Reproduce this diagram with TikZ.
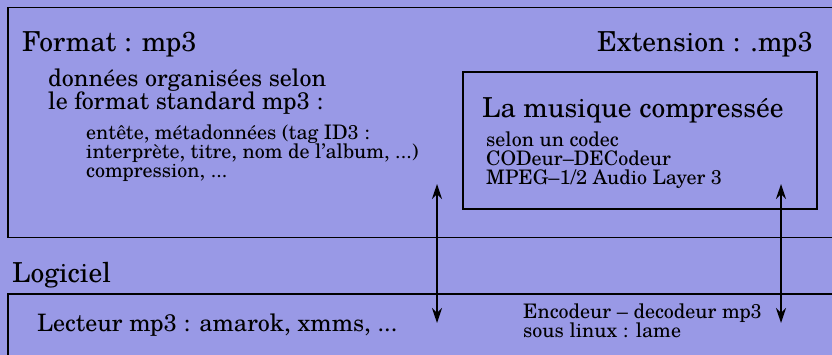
\documentclass[tikz,border=0pt]{standalone}
\usepackage{fontspec}
\setmainfont{TeX Gyre Schola}
\usetikzlibrary{arrows.meta}
\definecolor{bgblue}{RGB}{153,153,230}
\tikzset{
  big/.style={inner sep=0pt, font=\fontsize{27.5}{30}\selectfont},
  mid/.style={inner sep=0pt, font=\fontsize{24}{23}\selectfont},
  sml/.style={inner sep=0pt, font=\fontsize{20}{19}\selectfont},
  frame/.style={draw=black, line width=1.5pt, inner sep=0pt},
  innerframe/.style={draw=black, line width=2.2pt, inner sep=0pt},
  dbl/.style={line width=1.8pt, {Stealth[length=15pt,width=10pt,inset=5pt]}-{Stealth[length=15pt,width=10pt,inset=5pt]}}
}
\begin{document}
\begin{tikzpicture}[x=1pt,y=-1pt]
\useasboundingbox (0,0) rectangle (832,355);
\clip (0,0) rectangle (832,355);
\fill[bgblue] (-5,-5) rectangle (840,360);
% boxes
\node[frame, anchor=north west, minimum width=840pt, minimum height=230pt] (formatbox) at (7,7) {};
\node[innerframe, anchor=north west, minimum width=354pt, minimum height=137pt] (musicbox) at (462,71) {};
\node[frame, anchor=north west, minimum width=840pt, minimum height=80pt] (softbox) at (7,293) {};
% top texts
\node[big, anchor=base west] (format) at (22,52) {Format : mp3};
\node[big, anchor=base east] (ext) at (813,52) {Extension : .mp3};
\node[mid, anchor=base west] (don1) at (48,87) {données organisées selon};
\node[mid, anchor=base west] (don2) at (48,110) {le format standard mp3 :};
\node[sml, anchor=base west] (ent1) at (86,140) {entête, métadonnées (tag ID3 :};
\node[sml, anchor=base west] (ent2) at (86,159) {interprète, titre, nom de l’album, ...)};
\node[sml, anchor=base west] (ent3) at (86,178) {compression, ...};
% music box texts
\node[big, anchor=base west] (music) at (482,118) {La musique compressée};
\node[sml, anchor=base west] (cod1) at (486,147) {selon un codec};
\node[sml, anchor=base west] (cod2) at (486,166) {CODeur–DECodeur};
\node[sml, anchor=base west] (cod3) at (486,185) {MPEG–1/2 Audio Layer 3};
% software
\node[big, anchor=base west] (logiciel) at (12,282) {Logiciel};
\node[mid, anchor=base west] (lecteur) at (37,331) {Lecteur mp3 : amarok, xmms, ...};
\node[sml, anchor=base west] (enc1) at (523,318) {Encodeur – decodeur mp3};
\node[sml, anchor=base west] (enc2) at (523,337) {sous linux : lame};
% arrows
\coordinate (lefttop) at (437,184);
\coordinate (leftbot) at (437,323);
\coordinate (righttop) at (781,184);
\coordinate (rightbot) at (781,323);
\draw[dbl] (lefttop) -- (leftbot);
\draw[dbl] (righttop) -- (rightbot);
\end{tikzpicture}
\end{document}
